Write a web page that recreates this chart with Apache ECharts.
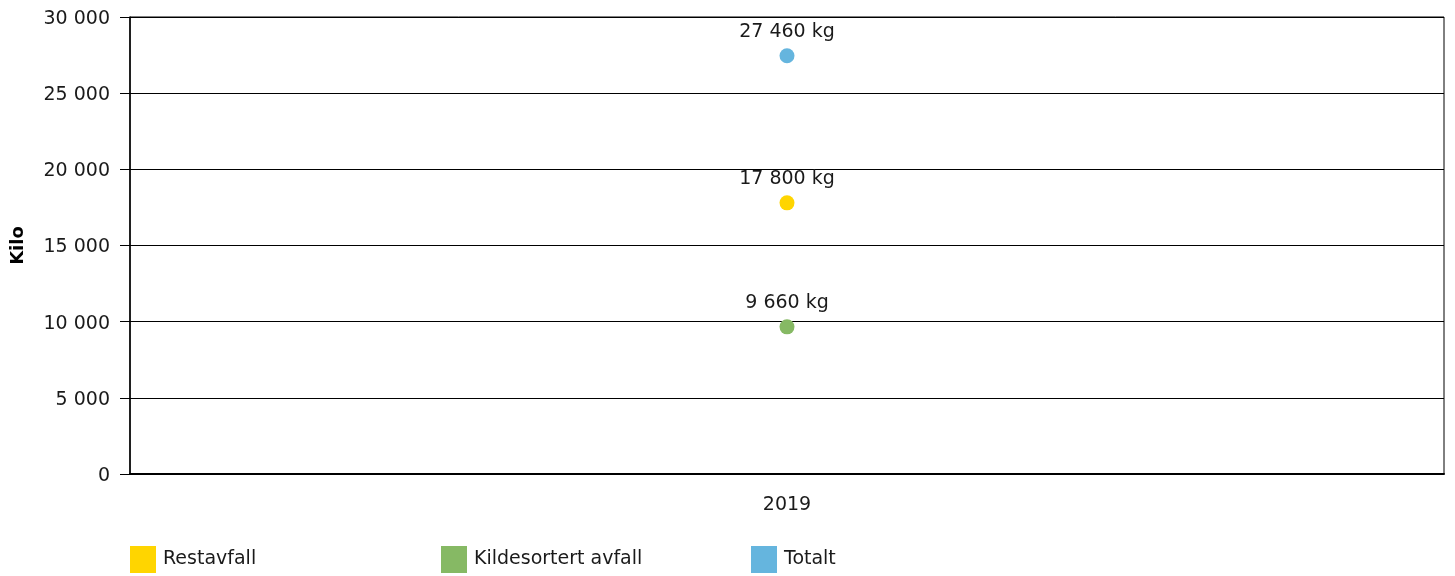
<!DOCTYPE html>
<html><head><meta charset="utf-8">
<script src="https://cdn.jsdelivr.net/npm/echarts@6/dist/echarts.min.js"></script>
<style>html,body{margin:0;padding:0;background:#fff}#c{width:1455px;height:576px}</style>
</head><body><div id="c"></div>
<script>
const categories = ['2019'];
const restavfall = [17800];
const kildesortert = [9660];
const totalt = [27460];
const seriesNames = ['Restavfall', 'Kildesortert avfall', 'Totalt'];
const colors = ['#FFD500', '#86B964', '#65B5DE'];
const yMin = 0, yMax = 30000, yInterval = 5000;

const FONT = '"DejaVu Sans", Verdana, sans-serif';
const fmt = v => String(Math.round(v)).replace(/\B(?=(\d{3})+(?!\d))/g, ' ');

const chart = echarts.init(document.getElementById('c'));
const mk = (name, data, color) => ({
  name, type: 'scatter', data, symbol: 'circle', symbolSize: 15,
  itemStyle: { color, opacity: 1 },
  label: { show: true, position: 'top', distance: 7, color: '#1a1a1a', fontFamily: FONT, fontSize: 19,
    formatter: p => fmt(p.value) + ' kg' }
});
const legendPos = [130, 441, 751];
chart.setOption({
  animation: false,
  textStyle: { fontFamily: FONT },
  grid: { left: 130, right: 11, top: 17, bottom: 102, show: true, borderColor: '#000', borderWidth: 1 },
  xAxis: {
    type: 'category', data: categories, boundaryGap: true,
    axisLine: { lineStyle: { color: '#000', width: 2 } },
    axisTick: { alignWithLabel: true, length: 7, lineStyle: { color: '#000' } },
    axisLabel: { color: '#1a1a1a', fontSize: 19, margin: 22, fontFamily: FONT },
    splitLine: { show: false }
  },
  yAxis: {
    type: 'value', min: yMin, max: yMax, interval: yInterval,
    name: 'Kilo', nameLocation: 'middle', nameGap: 103,
    nameTextStyle: { fontWeight: 'bold', fontSize: 18, color: '#000', fontFamily: FONT },
    axisLine: { show: true, lineStyle: { color: '#000', width: 1.5 } },
    axisTick: { show: true, length: 10, lineStyle: { color: '#000' } },
    axisLabel: { color: '#1a1a1a', fontSize: 19, margin: 20, fontFamily: FONT, formatter: fmt,
      verticalAlign: 'top', lineHeight: 4 },
    splitLine: { show: true, lineStyle: { color: '#000', width: 1.2 } }
  },
  legend: seriesNames.map((n, i) => ({
    data: [n], left: legendPos[i], top: 546, padding: 0, itemWidth: 26, itemHeight: 27, icon: 'rect', itemGap: 0,
    textStyle: { fontSize: 19, color: '#1a1a1a', fontFamily: FONT, padding: [0, 0, 0, 2],
      verticalAlign: 'top', lineHeight: 4 }, selectedMode: false
  })),
  series: [mk(seriesNames[0], restavfall, colors[0]), mk(seriesNames[1], kildesortert, colors[1]), mk(seriesNames[2], totalt, colors[2])]
});
</script></body></html>
